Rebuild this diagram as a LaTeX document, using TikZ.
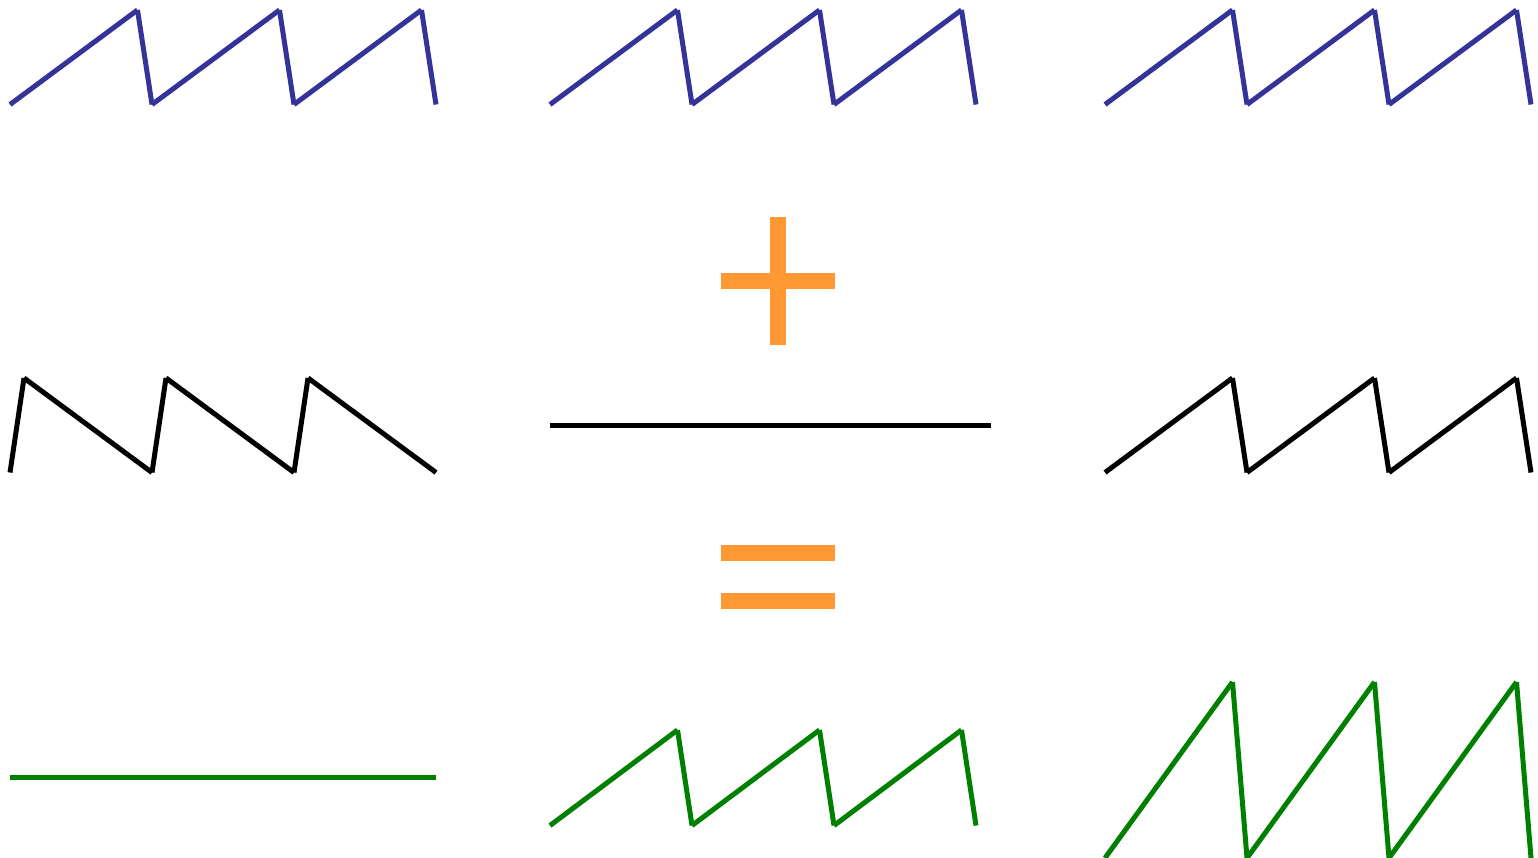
\documentclass[tikz,border=0pt]{standalone}
\definecolor{zblue}{HTML}{333399}
\definecolor{zorange}{HTML}{FF9933}
\definecolor{zgreen}{HTML}{008000}
\tikzset{
  zig/.style={line width=5pt, line cap=butt},
  sign/.style={fill=zorange, draw=none}
}
\newcommand{\sawup}[4]{% x0, ybottom, ytop, color : rising sawtooth
  \draw[zig,#4] (#1,#2) -- (#1+127.5,#3);
  \draw[zig,#4] (#1+127.5,#3) -- (#1+142,#2);
  \draw[zig,#4] (#1+142,#2) -- (#1+269.5,#3);
  \draw[zig,#4] (#1+269.5,#3) -- (#1+284,#2);
  \draw[zig,#4] (#1+284,#2) -- (#1+411.5,#3);
  \draw[zig,#4] (#1+411.5,#3) -- (#1+426,#2);
}
\newcommand{\sawdown}[4]{% x0, ybottom, ytop, color : falling sawtooth
  \draw[zig,#4] (#1,#2) -- (#1+14,#3);
  \draw[zig,#4] (#1+14,#3) -- (#1+142,#2);
  \draw[zig,#4] (#1+142,#2) -- (#1+156,#3);
  \draw[zig,#4] (#1+156,#3) -- (#1+284,#2);
  \draw[zig,#4] (#1+284,#2) -- (#1+298,#3);
  \draw[zig,#4] (#1+298,#3) -- (#1+426,#2);
}
\begin{document}
\begin{tikzpicture}[x=1pt,y=-1pt]
\useasboundingbox (0,0) rectangle (1538,857);
% top row (blue)
\sawup{10}{104.5}{10}{zblue}
\sawup{550}{104.5}{10}{zblue}
\sawup{1105}{104.5}{10}{zblue}
% plus sign
\fill[sign] (770,217) rectangle (786,345);
\fill[sign] (721,273) rectangle (835,289);
% middle row (black)
\sawdown{10}{472.5}{378}{black}
\draw[zig,black] (550,425.5) -- (991,425.5);
\sawup{1105}{472.5}{378}{black}
% equals sign
\fill[sign] (721,545) rectangle (835,561);
\fill[sign] (721,593) rectangle (835,609);
% bottom row (green)
\draw[zig,zgreen] (10,777.5) -- (436,777.5);
\sawup{550}{825.5}{730}{zgreen}
\sawup{1105}{858}{682}{zgreen}
\end{tikzpicture}
\end{document}
